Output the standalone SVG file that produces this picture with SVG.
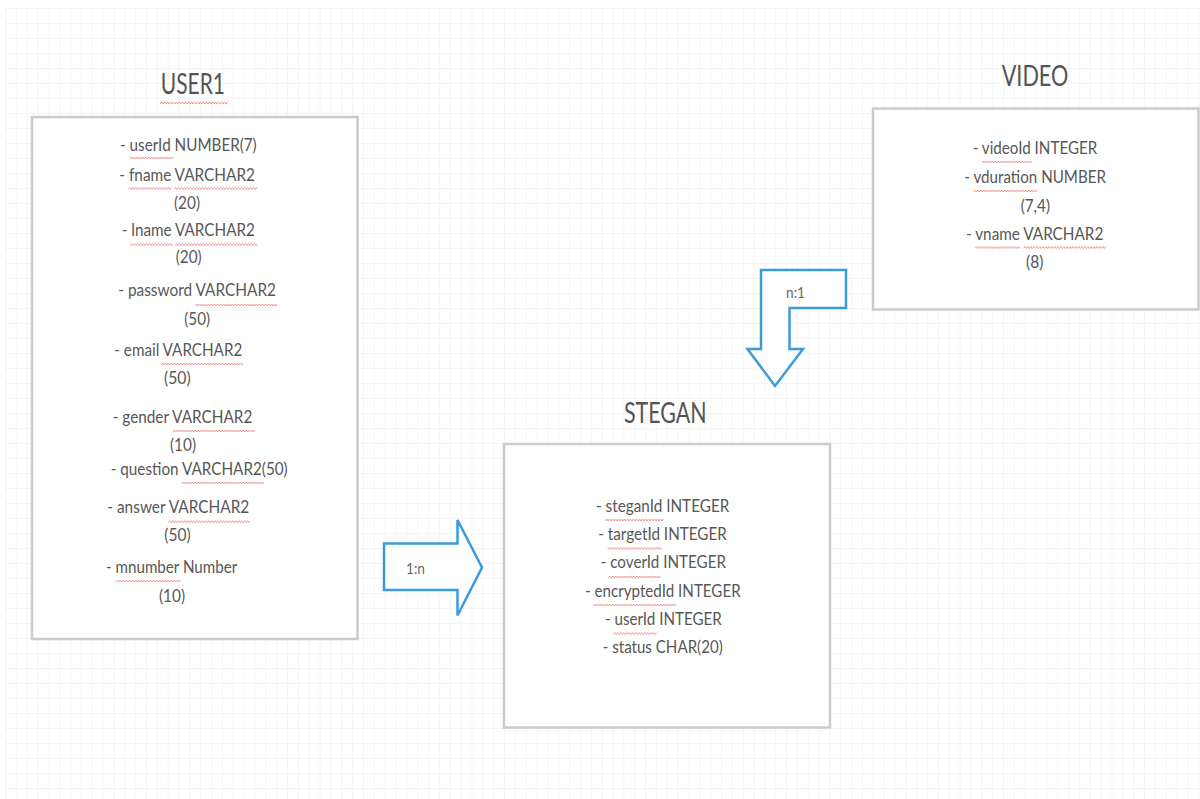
<svg xmlns="http://www.w3.org/2000/svg" xmlns:xlink="http://www.w3.org/1999/xlink" width="1200" height="799" viewBox="0 0 1200 799">
<style>
.box{fill:#ffffff;stroke:#cbcbcb;stroke-width:2.5}
.t{font-family:Lato,"Liberation Sans",sans-serif;fill:#575757;font-size:18px}
.h{font-family:Lato,"Liberation Sans",sans-serif;fill:#545454;font-size:29px}
.lbl{font-family:Lato,"Liberation Sans",sans-serif;fill:#666666;font-size:15px}
.arrow{fill:#ffffff;stroke:#3b9bd9;stroke-width:2.5;stroke-linejoin:miter}
.sqp{fill:none;stroke:#f08a8a;stroke-width:0.9}
</style>
<defs>
<pattern id="grid" patternUnits="userSpaceOnUse" x="5" y="8" width="10.848" height="15">
<path d="M0,0 V15 M0,0 H10.848" fill="none" stroke="#ebebeb" stroke-width="1"/>
</pattern>
<path id="sq" class="sqp" d="M0,3 l1.5,-2 1.5,2 1.5,-2 1.5,2 1.5,-2 1.5,2 1.5,-2 1.5,2 1.5,-2 1.5,2 1.5,-2 1.5,2 1.5,-2 1.5,2 1.5,-2 1.5,2 1.5,-2 1.5,2 1.5,-2 1.5,2 1.5,-2 1.5,2 1.5,-2 1.5,2 1.5,-2 1.5,2 1.5,-2 1.5,2 1.5,-2 1.5,2 1.5,-2 1.5,2 1.5,-2 1.5,2 1.5,-2 1.5,2 1.5,-2 1.5,2 1.5,-2 1.5,2 1.5,-2 1.5,2 1.5,-2 1.5,2 1.5,-2 1.5,2 1.5,-2 1.5,2 1.5,-2 1.5,2 1.5,-2 1.5,2 1.5,-2 1.5,2 1.5,-2 1.5,2 1.5,-2 1.5,2 1.5,-2 1.5,2 1.5,-2 1.5,2 1.5,-2 1.5,2 1.5,-2 1.5,2 1.5,-2 1.5,2 1.5,-2 1.5,2 1.5,-2 1.5,2 1.5,-2 1.5,2 1.5,-2 1.5,2"/>
</defs>
<rect x="0" y="0" width="1200" height="799" fill="#ffffff"/>
<rect x="5" y="8" width="1195" height="791" fill="url(#grid)"/>

<g id="user1">
<rect class="box" x="32" y="117" width="325.5" height="522"/>
<text class="h" x="160.7" y="94.3" textLength="64.3" lengthAdjust="spacingAndGlyphs">USER1</text>
<svg x="160" y="101" width="68" height="4"><use xlink:href="#sq"/></svg>
<text class="t" x="120" y="150.7" textLength="136.7" lengthAdjust="spacingAndGlyphs">- userId NUMBER(7)</text>
<svg x="129.3" y="156" width="44" height="4"><use xlink:href="#sq"/></svg>
<text class="t" x="119.3" y="181" textLength="135.7" lengthAdjust="spacingAndGlyphs">- fname VARCHAR2</text>
<svg x="128.3" y="186.5" width="43.4" height="4"><use xlink:href="#sq"/></svg>
<svg x="174" y="186.5" width="83.3" height="4"><use xlink:href="#sq"/></svg>
<text class="t" x="174" y="209" textLength="26" lengthAdjust="spacingAndGlyphs">(20)</text>
<text class="t" x="121.7" y="235.7" textLength="133.3" lengthAdjust="spacingAndGlyphs">- lname VARCHAR2</text>
<svg x="130" y="242.5" width="42.7" height="4"><use xlink:href="#sq"/></svg>
<svg x="175" y="242.5" width="82.3" height="4"><use xlink:href="#sq"/></svg>
<text class="t" x="175.7" y="263" textLength="26" lengthAdjust="spacingAndGlyphs">(20)</text>
<text class="t" x="118.3" y="296" textLength="157.7" lengthAdjust="spacingAndGlyphs">- password VARCHAR2</text>
<svg x="195" y="303" width="82.3" height="4"><use xlink:href="#sq"/></svg>
<text class="t" x="184.3" y="325" textLength="25.7" lengthAdjust="spacingAndGlyphs">(50)</text>
<text class="t" x="114.3" y="356" textLength="128" lengthAdjust="spacingAndGlyphs">- email VARCHAR2</text>
<svg x="161" y="362" width="82.3" height="4"><use xlink:href="#sq"/></svg>
<text class="t" x="164" y="384.3" textLength="26.7" lengthAdjust="spacingAndGlyphs">(50)</text>
<text class="t" x="112.7" y="423.3" textLength="139.6" lengthAdjust="spacingAndGlyphs">- gender VARCHAR2</text>
<svg x="172.7" y="429" width="82.3" height="4"><use xlink:href="#sq"/></svg>
<text class="t" x="170" y="451" textLength="26" lengthAdjust="spacingAndGlyphs">(10)</text>
<text class="t" x="110.7" y="475" textLength="177" lengthAdjust="spacingAndGlyphs">- question VARCHAR2(50)</text>
<svg x="181.7" y="481" width="82.3" height="4"><use xlink:href="#sq"/></svg>
<text class="t" x="107.3" y="512.7" textLength="142" lengthAdjust="spacingAndGlyphs">- answer VARCHAR2</text>
<svg x="168.3" y="519.7" width="81.7" height="4"><use xlink:href="#sq"/></svg>
<text class="t" x="164.3" y="541" textLength="26.4" lengthAdjust="spacingAndGlyphs">(50)</text>
<text class="t" x="106" y="572.7" textLength="131.3" lengthAdjust="spacingAndGlyphs">- mnumber Number</text>
<svg x="116" y="579" width="64.7" height="4"><use xlink:href="#sq"/></svg>
<text class="t" x="159" y="601.7" textLength="26" lengthAdjust="spacingAndGlyphs">(10)</text>
</g>

<g id="video">
<rect class="box" x="873" y="108.5" width="325.5" height="201"/>
<text class="h" x="1001.7" y="86" textLength="66.6" lengthAdjust="spacingAndGlyphs">VIDEO</text>
<text class="t" x="972.7" y="154.3" textLength="124.6" lengthAdjust="spacingAndGlyphs">- videoId INTEGER</text>
<svg x="981.7" y="160" width="50" height="4"><use xlink:href="#sq"/></svg>
<text class="t" x="964.3" y="183.3" textLength="141.7" lengthAdjust="spacingAndGlyphs">- vduration NUMBER</text>
<svg x="973.3" y="189" width="64" height="4"><use xlink:href="#sq"/></svg>
<text class="t" x="1020.7" y="211.7" textLength="29.3" lengthAdjust="spacingAndGlyphs">(7,4)</text>
<text class="t" x="966" y="240" textLength="137.3" lengthAdjust="spacingAndGlyphs">- vname VARCHAR2</text>
<svg x="975" y="245.5" width="45" height="4"><use xlink:href="#sq"/></svg>
<svg x="1023.3" y="245.5" width="82.7" height="4"><use xlink:href="#sq"/></svg>
<text class="t" x="1026" y="268.3" textLength="17.3" lengthAdjust="spacingAndGlyphs">(8)</text>
</g>

<g id="stegan">
<rect class="box" x="504" y="444" width="326" height="283.5"/>
<text class="h" x="624" y="422.7" textLength="82.7" lengthAdjust="spacingAndGlyphs">STEGAN</text>
<text class="t" x="596" y="511.7" textLength="133.3" lengthAdjust="spacingAndGlyphs">- steganId INTEGER</text>
<svg x="605" y="518" width="59" height="4"><use xlink:href="#sq"/></svg>
<text class="t" x="598.3" y="540" textLength="128.4" lengthAdjust="spacingAndGlyphs">- targetId INTEGER</text>
<svg x="607.3" y="546.5" width="54.4" height="4"><use xlink:href="#sq"/></svg>
<text class="t" x="600.7" y="568.3" textLength="125.3" lengthAdjust="spacingAndGlyphs">- coverId INTEGER</text>
<svg x="608.3" y="575" width="52.4" height="4"><use xlink:href="#sq"/></svg>
<text class="t" x="585" y="596.7" textLength="155.7" lengthAdjust="spacingAndGlyphs">- encryptedId INTEGER</text>
<svg x="593.3" y="603" width="82.7" height="4"><use xlink:href="#sq"/></svg>
<text class="t" x="605" y="625" textLength="116.7" lengthAdjust="spacingAndGlyphs">- userId INTEGER</text>
<svg x="613.3" y="631.5" width="43.4" height="4"><use xlink:href="#sq"/></svg>
<text class="t" x="602.7" y="653.3" textLength="120" lengthAdjust="spacingAndGlyphs">- status CHAR(20)</text>
</g>

<g id="connectors">
<g id="rel-user-stegan">
<polygon class="arrow" points="384,543.5 457.5,543.5 457.5,520 482,567.5 457.5,615.5 457.5,590 384,590"/>
<text class="lbl" x="406" y="574" textLength="19" lengthAdjust="spacingAndGlyphs">1:n</text>
</g>
<g id="rel-video-stegan">
<polygon class="arrow" points="761,270 846,270 846,308 789.5,308 789.5,349 803,349 775,386 747.5,349 761,349"/>
<text class="lbl" x="786" y="298.3" textLength="19" lengthAdjust="spacingAndGlyphs">n:1</text>
</g>
</g>
</svg>
